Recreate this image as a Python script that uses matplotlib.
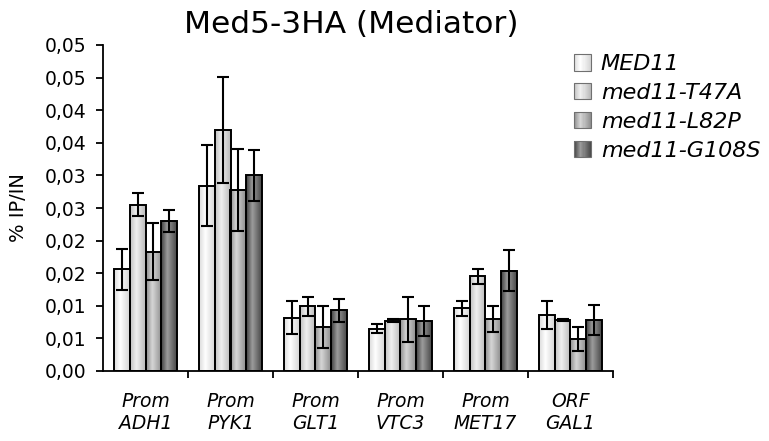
import numpy as np
import matplotlib
matplotlib.use("Agg")
import matplotlib.pyplot as plt
from matplotlib.colors import LinearSegmentedColormap
from matplotlib.patches import Rectangle
from matplotlib.legend_handler import HandlerBase

plt.rcParams['font.family'] = ['DejaVu Sans']

# données
categories = ['Prom\nADH1', 'Prom\nPYK1', 'Prom\nGLT1', 'Prom\nVTC3', 'Prom\nMET17', 'ORF\nGAL1']
series = ['MED11', 'med11-T47A', 'med11-L82P', 'med11-G108S']
med11 = [0.0156, 0.0284, 0.0082, 0.0065, 0.0096, 0.0086]
med11_err = [0.0031, 0.0062, 0.0026, 0.0007, 0.0012, 0.0022]
t47a = [0.0255, 0.0370, 0.0099, 0.0077, 0.0145, 0.0078]
t47a_err = [0.0018, 0.0081, 0.0015, 0.00025, 0.0012, 0.0001]
l82p = [0.0183, 0.0278, 0.0068, 0.0079, 0.0080, 0.0049]
l82p_err = [0.0044, 0.0063, 0.0032, 0.0035, 0.0020, 0.0019]
g108s = [0.0230, 0.0300, 0.0093, 0.0076, 0.0154, 0.0078]
g108s_err = [0.0017, 0.0039, 0.0018, 0.0023, 0.0032, 0.0023]
yticks = [0.0, 0.005, 0.01, 0.015, 0.02, 0.025, 0.03, 0.035, 0.04, 0.045, 0.05]
ytick_labels = ['0,00', '0,01', '0,01', '0,02', '0,02', '0,03', '0,03', '0,04', '0,04', '0,05', '0,05']

values = [med11, t47a, l82p, g108s]
errors = [med11_err, t47a_err, l82p_err, g108s_err]

# dégradés horizontaux (bord, centre, bord)
grad_colors = [
    ('#dadada', '#ffffff', '#d4d4d4'),
    ('#c0c0c0', '#f0f0f0', '#b8b8b8'),
    ('#8c8c8c', '#d6d6d6', '#8e8e8e'),
    ('#3e3e3e', '#9c9c9c', '#484848'),
]
cmaps = [LinearSegmentedColormap.from_list('g%d' % i, [(0, c[0]), (0.4, c[1]), (1, c[2])])
         for i, c in enumerate(grad_colors)]
grad = np.linspace(0, 1, 64).reshape(1, -1)


class GradSwatch:
    def __init__(self, cmap):
        self.cmap = cmap


class GradHandler(HandlerBase):
    def create_artists(self, legend, orig_handle, xdescent, ydescent, width, height, fontsize, trans):
        n = 16
        arts = []
        for k in range(n):
            r = Rectangle((-xdescent + width * k / n, -ydescent), width / n + 0.3, height,
                          facecolor=orig_handle.cmap((k + 0.5) / n), edgecolor='none', transform=trans)
            arts.append(r)
        arts.append(Rectangle((-xdescent, -ydescent), width, height, facecolor='none',
                              edgecolor='#707070', lw=0.8, transform=trans))
        return arts


fig = plt.figure(figsize=(7.69, 4.41), dpi=100)
ax = fig.add_axes([103 / 769, 1 - 371 / 441, 510 / 769, 326 / 441])

x = np.arange(len(categories))
width = 0.183
offsets = (np.arange(len(series)) - 1.5) * width

for i in range(len(series)):
    bars = ax.bar(x + offsets[i], values[i], width, yerr=errors[i], facecolor='none',
                  edgecolor='black', linewidth=1.4, zorder=3,
                  error_kw=dict(ecolor='black', elinewidth=1.5, capsize=4.5, capthick=1.5, zorder=4))
    for b in bars:
        x0, y0 = b.get_xy()
        ax.imshow(grad, cmap=cmaps[i], extent=[x0, x0 + b.get_width(), y0, y0 + b.get_height()],
                  aspect='auto', interpolation='bilinear', zorder=2)

ax.set_xlim(-0.5, len(categories) - 0.5)
ax.set_ylim(0, 0.05)
ax.set_aspect('auto')

for s in ['top', 'right']:
    ax.spines[s].set_visible(False)
for s in ['left', 'bottom']:
    ax.spines[s].set_linewidth(1.3)

ax.set_yticks(yticks)
ax.set_yticklabels(ytick_labels, fontsize=13.5)
ax.tick_params(axis='y', direction='out', length=5, width=1.3, pad=7)

ax.set_xticks(x)
ax.set_xticklabels(categories, fontsize=13.5, style='italic', linespacing=1.2)
ax.set_xticks(np.arange(len(categories)) + 0.5, minor=True)
ax.tick_params(axis='x', which='major', length=0, pad=15)
ax.tick_params(axis='x', which='minor', direction='out', length=5, width=1.3)

fig.text(19 / 769, 1 - 208 / 441, '% IP/IN', rotation=90, ha='center', va='center', fontsize=14)
fig.text(351 / 769, 1 - 33 / 441, 'Med5-3HA (Mediator)', ha='center', va='baseline', fontsize=22.5)

handles = [GradSwatch(c) for c in cmaps]
fig.legend(handles, series, handler_map={GradSwatch: GradHandler()}, loc='upper left',
           bbox_to_anchor=(563 / 769, 1 - 43 / 441), frameon=False, prop=dict(size=16, style='italic'),
           handlelength=0.75, handleheight=0.75, handletextpad=0.45, labelspacing=0.4, borderpad=0)

fig.savefig('out.png', dpi=100)
